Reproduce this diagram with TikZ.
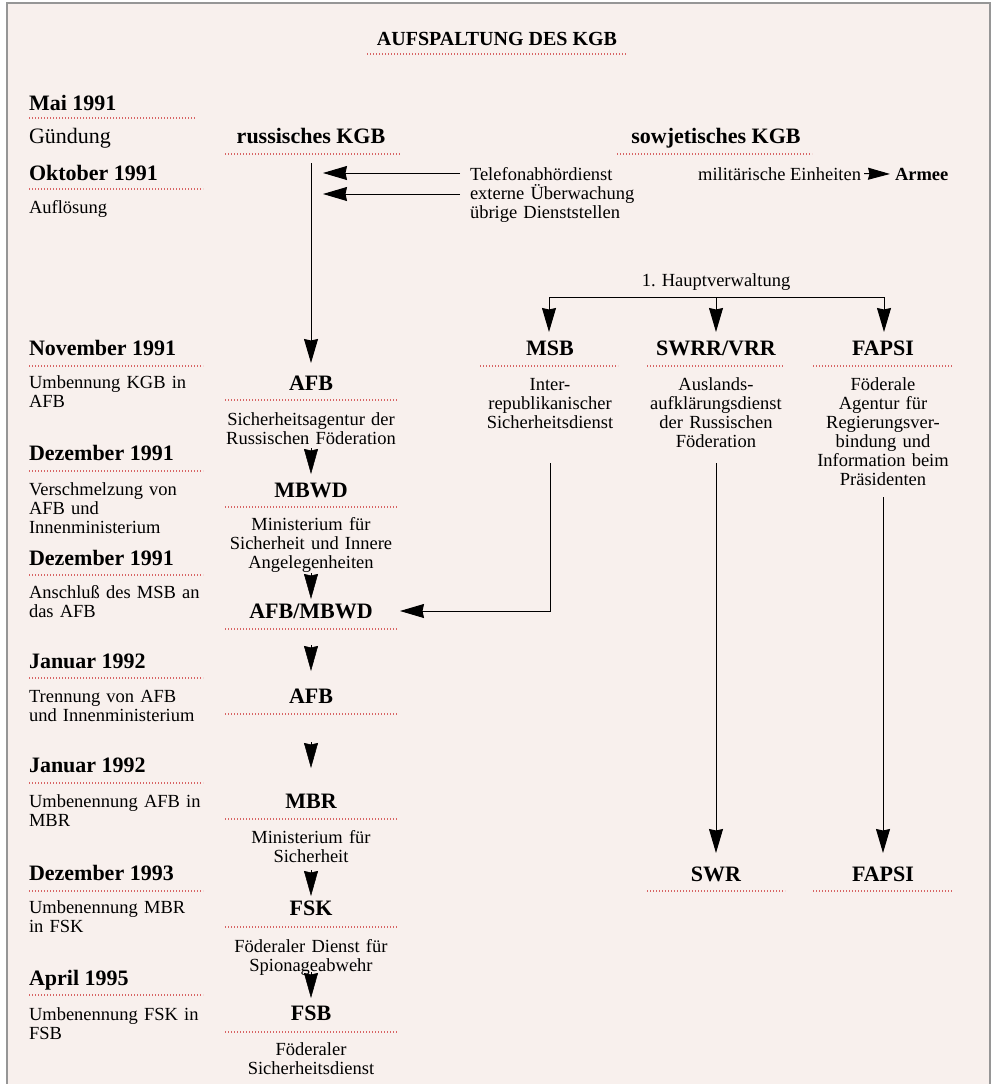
\documentclass[tikz,border=0pt]{standalone}
\usepackage{fontspec}
\setmainfont{Liberation Serif}
\usetikzlibrary{arrows.meta}
\definecolor{bgpink}{RGB}{248,240,237}
\definecolor{dotred}{RGB}{215,100,100}
\definecolor{framegray}{RGB}{150,150,150}
\begin{document}
\begin{tikzpicture}[x=1pt,y=-1pt,
  every node/.style={inner sep=0pt, outer sep=0pt},
  hd/.style={font=\bfseries\fontsize{22}{24}\selectfont, anchor=base west},
  lbl/.style={font=\fontsize{18.5}{19}\selectfont, anchor=base west, text width=210pt, align=left},
  ttl/.style={font=\bfseries\fontsize{22}{24}\selectfont, anchor=base},
  dsc/.style={font=\fontsize{18.5}{19}\selectfont, anchor=base, text width=200pt, align=center},
  dots/.style={draw=dotred, line width=1.2pt, dash pattern=on 1.2pt off 1.8pt},
  arr/.style={line width=1pt, -{Stealth[length=24pt, width=14pt, inset=1.5pt]}},
  tri/.style={line width=0.5pt, -{Stealth[length=25pt, width=14pt, inset=1.5pt]}},
]
\useasboundingbox (0,0) rectangle (994,1084);
\fill[white] (0,0) rectangle (994,1084);
\fill[bgpink] (7,3) rectangle (990,1084);
\draw[framegray, line width=1.5pt] (7,1084) -- (7,3) -- (990,3) -- (990,1084);

% title
\node[font=\bfseries\fontsize{20}{22}\selectfont, anchor=base] (title) at (497,45) {AUFSPALTUNG DES KGB};
\draw[dots] (367,54) -- (627,54);

% left column
\node[hd] (d1) at (29,110) {Mai 1991};
\draw[dots] (29,118) -- (195,118);
\node[font=\fontsize{22}{24}\selectfont, anchor=base west] (e1) at (29,143) {Gündung};
\node[hd] (d2) at (29,180) {Oktober 1991};
\draw[dots] (29,189) -- (203,189);
\node[lbl] (e2) at (29,213) {Auflösung};
\node[hd] (d3) at (29,355) {November 1991};
\draw[dots] (29,366) -- (203,366);
\node[lbl] (e3) at (29,388) {Umbennung KGB in\\AFB};
\node[hd] (d4) at (29,460) {Dezember 1991};
\draw[dots] (29,471) -- (203,471);
\node[lbl] (e4) at (29,495) {Verschmelzung von\\AFB und\\Innenministerium};
\node[hd] (d5) at (29,565) {Dezember 1991};
\draw[dots] (29,575) -- (203,575);
\node[lbl] (e5) at (29,598) {Anschluß des MSB an\\das AFB};
\node[hd] (d6) at (29,668) {Januar 1992};
\draw[dots] (29,678) -- (203,678);
\node[lbl] (e6) at (29,702) {Trennung von AFB\\und Innenministerium};
\node[hd] (d7) at (29,772) {Januar 1992};
\draw[dots] (29,783) -- (203,783);
\node[lbl] (e7) at (29,807) {Umbenennung AFB in\\MBR};
\node[hd] (d8) at (29,880) {Dezember 1993};
\draw[dots] (29,891) -- (203,891);
\node[lbl] (e8) at (29,913) {Umbenennung MBR\\in FSK};
\node[hd] (d9) at (29,985) {April 1995};
\draw[dots] (29,995) -- (203,995);
\node[lbl] (e9) at (29,1020) {Umbenennung FSK in\\FSB};

% centre column
\node[ttl] (rk) at (311,143) {russisches KGB};
\draw[dots] (225,154) -- (400,154);
\node[ttl] (afb1) at (311,390) {AFB};
\draw[dots] (225,400) -- (398,400);
\node[dsc] (afb1d) at (311,425) {Sicherheitsagentur der\\Russischen Föderation};
\node[ttl] (mbwd) at (311,497) {MBWD};
\draw[dots] (225,507) -- (398,507);
\node[dsc] (mbwdd) at (311,530) {Ministerium für\\Sicherheit und Innere\\Angelegenheiten};
\node[ttl] (afbm) at (311,618) {AFB/MBWD};
\draw[dots] (225,629) -- (398,629);
\node[ttl] (afb2) at (311,703) {AFB};
\draw[dots] (225,714) -- (398,714);
\node[ttl] (mbr) at (311,808) {MBR};
\draw[dots] (225,819) -- (398,819);
\node[dsc] (mbrd) at (311,843) {Ministerium für\\Sicherheit};
\node[ttl] (fsk) at (311,915) {FSK};
\draw[dots] (225,927) -- (398,927);
\node[dsc] (fskd) at (311,952) {Föderaler Dienst für\\Spionageabwehr};
\node[ttl] (fsb) at (311,1020) {FSB};
\draw[dots] (225,1032) -- (398,1032);
\node[dsc] (fsbd) at (311,1055) {Föderaler\\Sicherheitsdienst};

% centre arrows
\coordinate (rkS) at (311,163);
\coordinate (afb1N) at (311,363);
\draw[arr] (rkS) -- (afb1N);
\coordinate (t1a) at (311,448); \coordinate (t1b) at (311,474);
\draw[tri] (t1a) -- (t1b);
\coordinate (t2a) at (311,573); \coordinate (t2b) at (311,599);
\draw[tri] (t2a) -- (t2b);
\coordinate (t3a) at (311,645); \coordinate (t3b) at (311,671);
\draw[tri] (t3a) -- (t3b);
\coordinate (t4a) at (311,742); \coordinate (t4b) at (311,768);
\draw[tri] (t4a) -- (t4b);
\coordinate (t5a) at (311,870); \coordinate (t5b) at (311,896);
\draw[tri] (t5a) -- (t5b);
\coordinate (t6a) at (311,972); \coordinate (t6b) at (311,998);
\draw[tri] (t6a) -- (t6b);

% soviet KGB
\node[ttl] (sk) at (716,143) {sowjetisches KGB};
\draw[dots] (617,154) -- (812,154);
\node[lbl, text width=170pt] (tel) at (470,180) {Telefonabhördienst\\externe Überwachung\\übrige Dienststellen};
\coordinate (telA) at (460,173); \coordinate (telAe) at (323,173);
\coordinate (telB) at (460,194); \coordinate (telBe) at (323,194);
\draw[arr] (telA) -- (telAe);
\draw[arr] (telB) -- (telBe);
\node[font=\fontsize{18.5}{19}\selectfont, anchor=base east] (mil) at (861,180) {militärische Einheiten};
\node[font=\bfseries\fontsize{18.5}{19}\selectfont, anchor=base west] (armee) at (895,180) {Armee};
\draw[line width=1pt, -{Stealth[length=22pt, width=12pt, inset=1.5pt]}] ([xshift=3pt]mil.east) -- ([xshift=-5pt]armee.west);

% 1. Hauptverwaltung
\node[font=\fontsize{18.5}{19}\selectfont, anchor=base] (hv) at (716,286) {1. Hauptverwaltung};
\coordinate (hvL) at (549,297); \coordinate (hvM) at (716,297); \coordinate (hvR) at (884,297);
\draw[line width=1pt] (hvL) -- (hvR);
\coordinate (msbN) at (549,332); \coordinate (swrrN) at (716,332); \coordinate (fapN) at (884,332);
\draw[arr] (hvL) -- (msbN);
\draw[arr] (hvM) -- (swrrN);
\draw[arr] (hvR) -- (fapN);

\node[ttl] (msb) at (550,355) {MSB};
\draw[dots] (480,366) -- (618,366);
\node[ttl] (swrr) at (716,355) {SWRR/VRR};
\draw[dots] (647,366) -- (783,366);
\node[ttl] (fapsi) at (883,355) {FAPSI};
\draw[dots] (813,366) -- (952,366);
\node[dsc] (msbd) at (550,390) {Inter-\\republikanischer\\Sicherheitsdienst};
\node[dsc] (swrrd) at (716,390) {Auslands-\\aufklärungsdienst\\der Russischen\\Föderation};
\node[dsc] (fapd) at (883,390) {Föderale\\Agentur für\\Regierungsver-\\bindung und\\Information beim\\Präsidenten};

\node[ttl] (swr) at (716,881) {SWR};
\draw[dots] (647,891) -- (785,891);
\node[ttl] (fapsi2) at (883,881) {FAPSI};
\draw[dots] (813,891) -- (952,891);

\coordinate (msbS) at (550,463); \coordinate (msbC) at (550,611); \coordinate (afbmE) at (400,611);
\draw[arr] (msbS) -- (msbC) -- (afbmE);
\coordinate (swrrS) at (716,463); \coordinate (swrN) at (716,853);
\draw[arr] (swrrS) -- (swrN);
\coordinate (fapS) at (883,497); \coordinate (fap2N) at (883,853);
\draw[arr] (fapS) -- (fap2N);
\end{tikzpicture}
\end{document}
